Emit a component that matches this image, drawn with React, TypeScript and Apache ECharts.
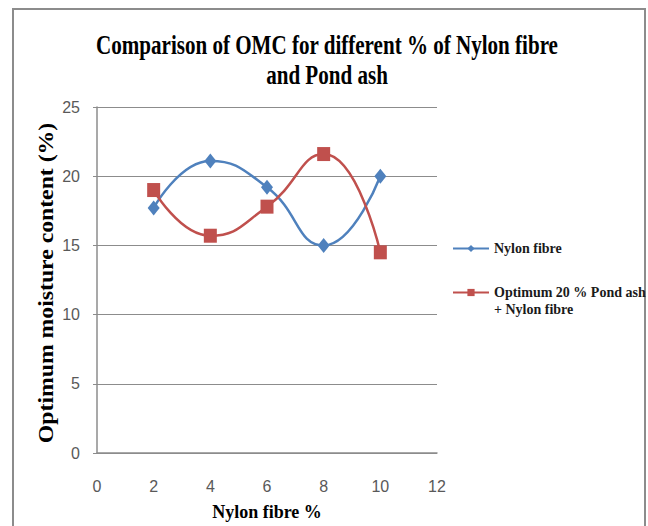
import React, { useEffect, useRef } from "react";
import * as echarts from "echarts";

// Nylon fibre content (%) on the x axis
const fibrePercent = [2, 4, 6, 8, 10];
// Optimum moisture content (%) for each mix
const nylonOnly = [17.7, 21.1, 19.2, 15.0, 20.0];
const pondAshNylon = [19.0, 15.7, 17.8, 21.6, 14.5];

const seriesNames = ["Nylon fibre", "Optimum 20 % Pond ash + Nylon fibre"];
const titleLines = ["Comparison of OMC for different % of Nylon fibre", "and Pond ash"];
const yAxisTitle = "Optimum moisture content (%)";
const xAxisTitle = "Nylon fibre %";

const BLUE = "#4f81bd";
const RED = "#c0504d";
const SERIF = "'Liberation Serif', 'Times New Roman', serif";
const SANS = "'Liberation Sans', Arial, sans-serif";

export default function App() {
  const ref = useRef<HTMLDivElement>(null);

  useEffect(() => {
    if (!ref.current) return;
    const chart = echarts.init(ref.current, undefined, { renderer: "svg" });

    const pairs = (ys: number[]) => fibrePercent.map((x, i) => [x, ys[i]]);

    chart.setOption({
      animation: false,
      backgroundColor: "#ffffff",
      grid: { left: 97, right: 211, top: 107, bottom: 67 },
      graphic: [
        {
          type: "rect",
          shape: { x: 13, y: 9, width: 632, height: 540 },
          style: { fill: "none", stroke: "#8c8c8c", lineWidth: 2 },
          silent: true,
        },
        {
          type: "text",
          x: 327,
          y: 45,
          scaleX: 0.78,
          style: {
            text: titleLines[0],
            fontFamily: SERIF,
            fontWeight: "bold",
            fontSize: 27,
            fill: "#000",
            align: "center",
            verticalAlign: "middle",
          },
        },
        {
          type: "text",
          x: 327,
          y: 75,
          scaleX: 0.78,
          style: {
            text: titleLines[1],
            fontFamily: SERIF,
            fontWeight: "bold",
            fontSize: 27,
            fill: "#000",
            align: "center",
            verticalAlign: "middle",
          },
        },
        {
          type: "text",
          x: 46,
          y: 283,
          rotation: Math.PI / 2,
          scaleX: 1.13,
          style: {
            text: yAxisTitle,
            fontFamily: SERIF,
            fontWeight: "bold",
            fontSize: 21,
            fill: "#000",
            align: "center",
            verticalAlign: "middle",
          },
        },
      ],
      legend: {
        orient: "vertical",
        left: 452,
        top: 240,
        padding: 0,
        itemGap: 10,
        itemWidth: 36,
        itemHeight: 9,
        data: seriesNames,
        formatter: (name: string) =>
          name === seriesNames[1] ? "\nOptimum 20 % Pond ash\n+ Nylon fibre" : name,
        textStyle: {
          fontFamily: SERIF,
          fontWeight: "bold",
          fontSize: 14,
          lineHeight: 17,
          color: "#1a1a1a",
        },
      },
      xAxis: {
        type: "value",
        min: 0,
        max: 12,
        interval: 2,
        name: xAxisTitle,
        nameLocation: "middle",
        nameGap: 50,
        nameTextStyle: { fontFamily: SERIF, fontWeight: "bold", fontSize: 18, color: "#000" },
        axisLine: { show: true, lineStyle: { color: "#8c8c8c", width: 1.5 } },
        axisTick: { show: false },
        splitLine: { show: false },
        axisLabel: { fontFamily: SANS, fontSize: 16, color: "#595959", margin: 25 },
      },
      yAxis: {
        type: "value",
        min: 0,
        max: 25,
        interval: 5,
        axisLine: { show: true, lineStyle: { color: "#8c8c8c", width: 1.5 } },
        axisTick: { show: true, length: 4, lineStyle: { color: "#8c8c8c" } },
        splitLine: { show: true, lineStyle: { color: "#8c8c8c", width: 1.2 } },
        axisLabel: { fontFamily: SANS, fontSize: 16, color: "#595959", margin: 17 },
      },
      series: [
        {
          name: seriesNames[0],
          type: "line",
          smooth: 0.5,
          data: pairs(nylonOnly),
          symbol: "diamond",
          symbolSize: [12, 15],
          lineStyle: { color: BLUE, width: 2.5 },
          itemStyle: { color: BLUE },
        },
        {
          name: seriesNames[1],
          type: "line",
          smooth: 0.5,
          data: pairs(pondAshNylon),
          symbol: "rect",
          symbolSize: [13, 14],
          lineStyle: { color: RED, width: 2.5 },
          itemStyle: { color: RED },
        },
      ],
    });

    return () => chart.dispose();
  }, []);

  return (
    <div
      ref={ref}
      style={{ position: "fixed", left: 0, top: 0, width: 648, height: 526, background: "#fff" }}
    />
  );
}
